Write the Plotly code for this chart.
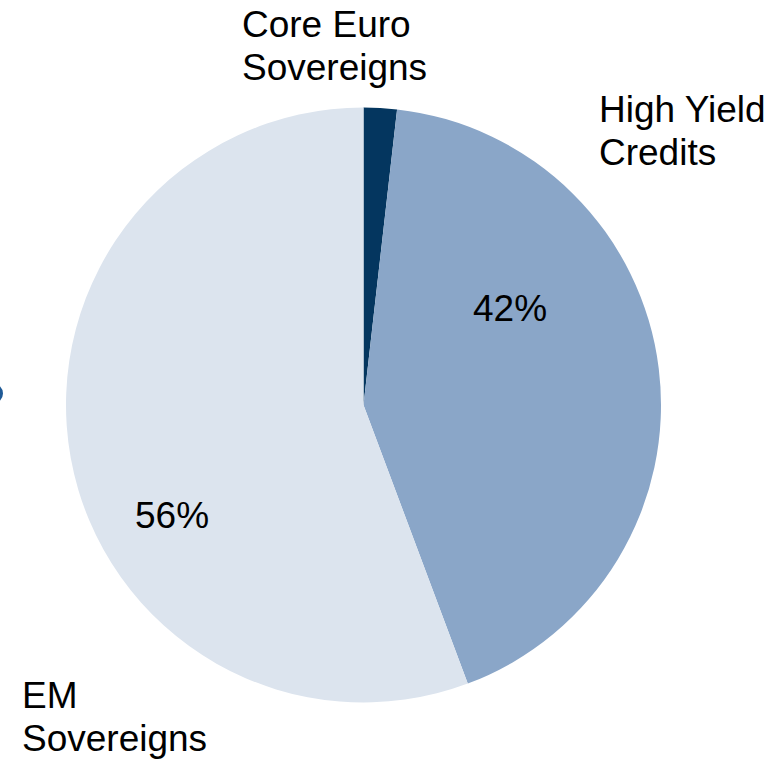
import plotly.graph_objects as go

# Data
categories = ["Core Euro<br>Sovereigns", "High Yield<br>Credits", "EM<br>Sovereigns"]
values = [1.8, 42.5, 55.7]
pct_labels = ["", "42%", "56%"]
colors = ["#04365F", "#8AA6C8", "#DCE4EE"]

W, H = 782, 761

def px(x):
    return x / W

def py(y):
    return 1 - y / H

fig = go.Figure()
fig.add_trace(go.Pie(
    labels=categories,
    values=values,
    sort=False,
    direction="clockwise",
    rotation=0,
    marker=dict(colors=colors, line=dict(width=0)),
    textinfo="none",
    hoverinfo="label+percent",
    showlegend=False,
    domain=dict(x=[px(66), px(661)], y=[py(703), py(107)]),
))

font = dict(family="Liberation Sans, Arial, sans-serif", size=37, color="#000000")

# Category labels: (left x, centre y of first line) in page pixels; line step 44 px
label_pos = [(240, 25), (597, 109), (20, 695)]
line_step = 43
annotations = []
for txt, (x, y) in zip(categories, label_pos):
    for i, line in enumerate(txt.split("<br>")):
        annotations.append(dict(text=line, x=px(x), y=py(y + i * line_step),
                                xref="paper", yref="paper",
                                xanchor="left", yanchor="middle", align="left",
                                showarrow=False, font=font))

pct_pos = [(0, 0), (510, 308), (172, 515)]
for txt, (x, y) in zip(pct_labels, pct_pos):
    if txt:
        annotations.append(dict(text=txt, x=px(x), y=py(y), xref="paper", yref="paper",
                                xanchor="center", yanchor="middle",
                                showarrow=False, font=font))

fig.update_layout(
    width=W, height=H,
    margin=dict(l=0, r=0, t=0, b=0),
    paper_bgcolor="white",
    plot_bgcolor="white",
    annotations=annotations,
    shapes=[dict(type="circle", xref="paper", yref="paper",
                 x0=-0.03, x1=px(3), y0=py(405), y1=py(382),
                 fillcolor="#1F5A96", line=dict(width=0))],
)

fig.write_html("out.html")
